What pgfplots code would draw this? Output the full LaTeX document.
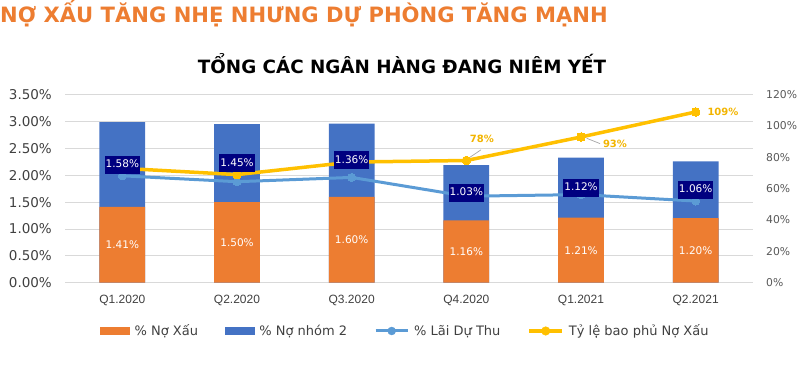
\documentclass[border=0pt]{standalone}
\usepackage{pgfplots}
\pgfplotsset{compat=1.18}
\usepackage{pgfplotstable}
\usepackage{fontspec}
\setmainfont{DejaVu Sans}
\newfontfamily\libsans{Liberation Sans}
\definecolor{cOr}{HTML}{ED7D31}
\definecolor{cBl}{HTML}{4472C4}
\definecolor{cLb}{HTML}{5B9BD5}
\definecolor{cYe}{HTML}{FFC000}
\definecolor{cYt}{HTML}{F2B400}
\definecolor{cNv}{HTML}{000080}
\definecolor{cGr}{HTML}{D9D9D9}
\definecolor{cTx}{HTML}{404040}
\definecolor{cTr}{HTML}{595959}
\definecolor{cLead}{HTML}{A6A6A6}

\pgfplotstableread{
x no n2 ldt bp
0 1.41 1.58 1.99 73
1 1.50 1.45 1.88 69
2 1.60 1.36 1.96 77
3 1.16 1.03 1.61 78
4 1.21 1.12 1.64 93
5 1.20 1.06 1.52 109
}\data

\pgfplotstableread{
x bp dx dy
3 78 15.5 21.7
4 93 34 -6.8
5 109 27.3 0
}\ylabels

\begin{document}
\begin{tikzpicture}[x=1pt,y=1pt]
\path[use as bounding box] (0,0) rectangle (800,377);
\node[anchor=base west, inner sep=0, text=cOr, font=\fontsize{21.1}{24}\selectfont\bfseries] at (0,354.3) {NỢ XẤU TĂNG NHẸ NHƯNG DỰ PHÒNG TĂNG MẠNH};
\node[anchor=base, inner sep=0, font=\fontsize{18.3}{22}\selectfont\bfseries] at (402,303.7) {TỔNG CÁC NGÂN HÀNG ĐANG NIÊM YẾT};

\begin{axis}[
  at={(65pt,94.3pt)}, anchor=south west, scale only axis,
  width=688pt, height=188pt,
  xmin=-0.5, xmax=5.5, ymin=0, ymax=3.5,
  ytick={0,0.5,1,1.5,2,2.5,3,3.5},
  yticklabels={0.00\%,0.50\%,1.00\%,1.50\%,2.00\%,2.50\%,3.00\%,3.50\%},
  xtick={0,1,2,3,4,5},
  xticklabels={Q1.2020,Q2.2020,Q3.2020,Q4.2020,Q1.2021,Q2.2021},
  ymajorgrids, grid style={cGr, line width=0.8pt},
  major tick length=0pt,
  axis line style={draw=none},
  yticklabel style={anchor=east, inner sep=0pt, xshift=-13pt, font=\fontsize{13.5}{15}\selectfont, text=cTx},
  xticklabel style={anchor=center, inner sep=0pt, yshift=-18pt, font=\libsans\fontsize{12}{14}\selectfont, text=cTx},
  clip=false,
  legend columns=4,
  legend cell align=left,
  legend style={at={(axis description cs:0.494,0)}, anchor=center, yshift=-48.3pt, draw=none, fill=none,
    font=\fontsize{13}{15}\selectfont, text=cTx,
    /tikz/every odd column/.append style={column sep=4pt},
    /tikz/every even column/.append style={column sep=26pt},
    nodes={inner sep=1pt}},
]
\addplot[ybar, bar width=45.7pt, bar shift=0pt, fill=cBl, draw=none, forget plot]
  table[x=x, y expr=\thisrow{no}+\thisrow{n2}] {\data};
\addplot[ybar, bar width=45.7pt, bar shift=0pt, fill=cOr, draw=none, forget plot]
  table[x=x, y=no] {\data};
\addplot[cLb, line width=3pt, mark=*, mark size=4pt, mark options={fill=cLb, draw=cLb, line width=0pt}, forget plot]
  table[x=x, y=ldt] {\data};
\addplot[cYe, line width=3.5pt, mark=*, mark size=4.3pt, mark options={fill=cYe, draw=cYe, line width=0pt}, forget plot]
  table[x=x, y expr=\thisrow{bp}*3.5/120] {\data};
% labels orange
\addplot[draw=none, mark=none, forget plot, nodes near coords={\pgfplotspointmeta\%}, point meta=explicit symbolic,
  every node near coord/.style={anchor=center, text=white, font=\fontsize{10.5}{12}\selectfont}]
  table[x=x, y expr=\thisrow{no}/2, meta=no] {\data};
% labels blue
\addplot[draw=none, mark=none, forget plot, nodes near coords={\pgfplotspointmeta\%}, point meta=explicit symbolic,
  every node near coord/.style={anchor=center, text=white, fill=cNv, inner xsep=1pt, inner ysep=4pt, text height=8pt, text depth=2pt, font=\fontsize{10.5}{12}\selectfont}]
  table[x=x, y expr=\thisrow{no}+\thisrow{n2}/2, meta=n2] {\data};
% leader lines
\draw[cLead, line width=0.7pt] ([xshift=1.3pt,yshift=1.7pt]axis cs:3,2.275) -- ([xshift=14.7pt,yshift=10.7pt]axis cs:3,2.275);
\draw[cLead, line width=0.7pt] ([xshift=5.7pt,yshift=-1.3pt]axis cs:4,2.7125) -- ([xshift=19pt,yshift=-6.6pt]axis cs:4,2.7125);
% labels yellow
\addplot[draw=none, mark=none, forget plot, nodes near coords={\pgfplotspointmeta\%}, point meta=explicit symbolic,
  visualization depends on={\thisrow{dx} \as \dx},
  visualization depends on={\thisrow{dy} \as \dy},
  every node near coord/.style={anchor=center, text=cYt, inner sep=0pt, xshift=\dx pt, yshift=\dy pt, font=\fontsize{10}{12}\selectfont\bfseries}]
  table[x=x, y expr=\thisrow{bp}*3.5/120, meta=bp] {\ylabels};

\addlegendimage{legend image code/.code={\fill[cOr] (0pt,-3.5pt) rectangle (29pt,3.5pt);}}
\addlegendentry{\% Nợ Xấu}
\addlegendimage{legend image code/.code={\fill[cBl] (0pt,-3.5pt) rectangle (29pt,3.5pt);}}
\addlegendentry{\% Nợ nhóm 2}
\addlegendimage{legend image code/.code={\draw[cLb,line width=3pt] (0pt,0pt) -- (32pt,0pt); \fill[cLb] (16pt,0pt) circle (4pt);}}
\addlegendentry{\% Lãi Dự Thu}
\addlegendimage{legend image code/.code={\draw[cYe,line width=3.5pt] (0pt,0pt) -- (33pt,0pt); \fill[cYe] (16.5pt,0pt) circle (4.3pt);}}
\addlegendentry{Tỷ lệ bao phủ Nợ Xấu}
\end{axis}

\begin{axis}[
  at={(65pt,94.3pt)}, anchor=south west, scale only axis,
  width=688pt, height=188pt,
  xmin=-0.5, xmax=5.5, ymin=0, ymax=120,
  axis y line*=right, axis x line=none,
  xtick=\empty,
  ytick={0,20,40,60,80,100,120},
  /pgf/number format/assume math mode=true,
  yticklabel={\pgfmathprintnumber{\tick}\%},
  major tick length=0pt,
  axis line style={draw=none},
  yticklabel style={anchor=west, inner sep=0pt, xshift=13pt, font=\fontsize{10.8}{13}\selectfont, text=cTr},
]
\end{axis}
\end{tikzpicture}
\end{document}
